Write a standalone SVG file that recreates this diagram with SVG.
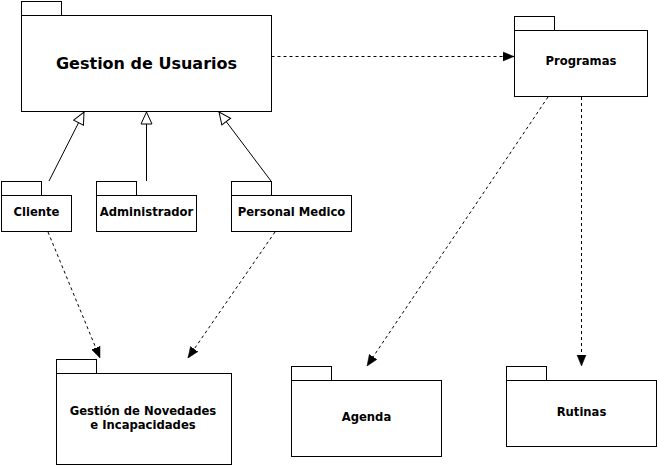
<svg xmlns="http://www.w3.org/2000/svg" width="658" height="466" viewBox="0 0 658 466">
<defs>
<style>
.pk{fill:#fff;stroke:#000;stroke-width:1}
.t{font-family:"DejaVu Sans",Verdana,sans-serif;font-weight:bold;font-size:11.6px;fill:#000;text-anchor:middle}
.big{font-size:16px}
.dep{fill:none;stroke:#000;stroke-width:1;stroke-dasharray:3 3}
.gen{fill:none;stroke:#000;stroke-width:1}
</style>
<marker id="arr" viewBox="0 0 11 11" refX="11" refY="5.5" markerWidth="11" markerHeight="11" markerUnits="userSpaceOnUse" orient="auto">
<path d="M0,1 L11,5.5 L0,10 Z" fill="#000" stroke="#000" stroke-width="0.5"/>
</marker>
<marker id="tri" viewBox="0 0 14 14" refX="13" refY="7" markerWidth="14" markerHeight="14" markerUnits="userSpaceOnUse" orient="auto">
<path d="M1,1.5 L13,7 L1,12.5 Z" fill="#fff" stroke="#000" stroke-width="1"/>
</marker>
</defs>
<rect width="658" height="466" fill="#fff"/>
<g id="connectors">
<path class="dep" d="M271.5,56.5 L514,56.5" marker-end="url(#arr)"/>
<path class="gen" d="M49,181 L84,112" marker-end="url(#tri)"/>
<path class="gen" d="M146.5,181 L146.5,112" marker-end="url(#tri)"/>
<path class="gen" d="M271,181 L219,112" marker-end="url(#tri)"/>
<path class="dep" d="M48,232 L100,358" marker-end="url(#arr)"/>
<path class="dep" d="M275,232 L188,358" marker-end="url(#arr)"/>
<path class="dep" d="M548,97 L367,366" marker-end="url(#arr)"/>
<path class="dep" d="M581.5,97 L581.5,366" marker-end="url(#arr)"/>
</g>
<g id="gestion-usuarios">
<rect class="pk" x="21.5" y="1.5" width="40" height="14"/>
<rect class="pk" x="21.5" y="15.5" width="250" height="96"/>
<text class="t big" x="146.5" y="69">Gestion de Usuarios</text>
</g>
<g id="programas">
<rect class="pk" x="514.5" y="16.5" width="40" height="14"/>
<rect class="pk" x="514.5" y="30.5" width="133" height="66"/>
<text class="t" x="581" y="65">Programas</text>
</g>
<g id="cliente">
<rect class="pk" x="1.5" y="181.5" width="40" height="14"/>
<rect class="pk" x="1.5" y="195.5" width="70" height="36"/>
<text class="t" x="36.5" y="216">Cliente</text>
</g>
<g id="administrador">
<rect class="pk" x="96.5" y="181.5" width="40" height="14"/>
<rect class="pk" x="96.5" y="195.5" width="100" height="36"/>
<text class="t" x="146.5" y="216">Administrador</text>
</g>
<g id="personal-medico">
<rect class="pk" x="231.5" y="181.5" width="40" height="14"/>
<rect class="pk" x="231.5" y="195.5" width="120" height="36"/>
<text class="t" x="291.5" y="216">Personal Medico</text>
</g>
<g id="novedades">
<rect class="pk" x="56.5" y="359.5" width="40" height="14"/>
<rect class="pk" x="56.5" y="373.5" width="175" height="91"/>
<text class="t" x="143" y="415">Gestión de Novedades</text>
<text class="t" x="143" y="429">e Incapacidades</text>
</g>
<g id="agenda">
<rect class="pk" x="291.5" y="366.5" width="40" height="14"/>
<rect class="pk" x="291.5" y="380.5" width="150" height="76"/>
<text class="t" x="366.5" y="421">Agenda</text>
</g>
<g id="rutinas">
<rect class="pk" x="506.5" y="366.5" width="40" height="14"/>
<rect class="pk" x="506.5" y="380.5" width="150" height="66"/>
<text class="t" x="581.5" y="416">Rutinas</text>
</g>
</svg>
